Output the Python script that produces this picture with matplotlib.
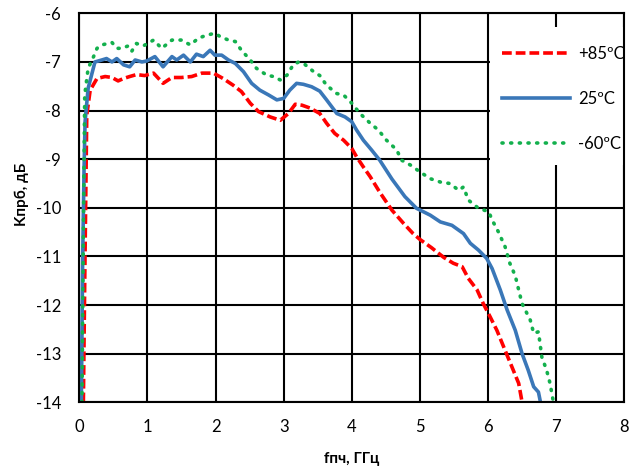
import numpy as np
import matplotlib

matplotlib.use("Agg")

import matplotlib.pyplot as plt
from matplotlib.patches import Rectangle

plt.rcParams["font.family"] = ["Lato", "DejaVu Sans"]

# +85 C
f_hot = [0.06, 0.08, 0.10, 0.11, 0.16, 0.26, 0.38, 0.48, 0.57, 0.65, 0.74, 0.84,
         0.96, 1.09, 1.23, 1.36, 1.50, 1.65, 1.80, 1.97, 2.11, 2.26, 2.38, 2.51,
         2.63, 2.80, 2.95, 3.07, 3.17, 3.27, 3.39, 3.53, 3.63, 3.75, 3.88, 4.00,
         4.07, 4.17, 4.27, 4.42, 4.59, 4.76, 4.90, 5.00, 5.17, 5.35, 5.49, 5.62,
         5.71, 5.84, 5.93, 6.03, 6.13, 6.25, 6.35, 6.45, 6.50]
k_hot = [-14.0, -11.5, -9.2, -8.09, -7.58, -7.34, -7.30, -7.32, -7.39, -7.34, -7.30, -7.26,
         -7.28, -7.23, -7.44, -7.32, -7.32, -7.30, -7.23, -7.23, -7.34, -7.48, -7.61, -7.85,
         -8.02, -8.13, -8.20, -8.06, -7.87, -7.89, -7.95, -8.06, -8.26, -8.47, -8.61, -8.78,
         -8.95, -9.16, -9.36, -9.70, -10.05, -10.32, -10.53, -10.65, -10.82, -11.02, -11.14, -11.21,
         -11.45, -11.69, -11.97, -12.24, -12.52, -12.93, -13.27, -13.61, -14.0]

# 25 C
f_room = [0.03, 0.05, 0.07, 0.085, 0.13, 0.23, 0.33, 0.40, 0.48, 0.55, 0.65, 0.74,
          0.82, 0.92, 0.99, 1.11, 1.23, 1.36, 1.43, 1.53, 1.63, 1.72, 1.82, 1.92,
          1.99, 2.09, 2.19, 2.29, 2.41, 2.53, 2.65, 2.78, 2.90, 3.00, 3.09, 3.19,
          3.29, 3.41, 3.53, 3.63, 3.78, 3.90, 4.00, 4.07, 4.17, 4.29, 4.41, 4.59,
          4.78, 4.95, 5.15, 5.30, 5.47, 5.57, 5.64, 5.74, 5.86, 5.98, 6.06, 6.18,
          6.28, 6.40, 6.50, 6.59, 6.67, 6.74, 6.77]
k_room = [-14.0, -11.0, -9.2, -8.23, -7.54, -7.00, -6.96, -6.93, -7.00, -6.93, -7.06, -7.10,
          -6.96, -7.00, -6.98, -6.89, -7.10, -6.89, -6.96, -6.86, -7.00, -6.84, -6.89, -6.76,
          -6.86, -6.86, -6.96, -7.03, -7.20, -7.44, -7.58, -7.68, -7.78, -7.75, -7.58, -7.44,
          -7.46, -7.51, -7.60, -7.78, -8.06, -8.13, -8.23, -8.40, -8.61, -8.81, -9.02, -9.41,
          -9.77, -10.01, -10.15, -10.29, -10.36, -10.46, -10.53, -10.73, -10.87, -11.04, -11.25, -11.69,
          -12.10, -12.52, -13.00, -13.34, -13.68, -13.79, -14.0]

# -60 C
f_cold = [0.04, 0.06, 0.08, 0.13, 0.21, 0.26, 0.33, 0.48, 0.55, 0.62, 0.72, 0.77,
          0.84, 0.94, 1.09, 1.21, 1.36, 1.50, 1.63, 1.75, 1.87, 1.99, 2.07, 2.19,
          2.29, 2.38, 2.51, 2.60, 2.75, 2.85, 2.95, 3.05, 3.14, 3.22, 3.31, 3.44,
          3.53, 3.63, 3.78, 3.88, 4.00, 4.12, 4.27, 4.39, 4.51, 4.66, 4.73, 4.86,
          5.00, 5.15, 5.30, 5.44, 5.57, 5.64, 5.71, 5.86, 6.01, 6.06, 6.15, 6.25,
          6.32, 6.40, 6.45, 6.50, 6.62, 6.67, 6.74, 6.79, 6.86, 6.91, 6.96]
k_cold = [-14.0, -10.5, -7.68, -7.13, -6.89, -6.72, -6.65, -6.60, -6.72, -6.72, -6.67, -6.78,
          -6.62, -6.67, -6.55, -6.72, -6.55, -6.55, -6.65, -6.51, -6.45, -6.41, -6.48, -6.55,
          -6.58, -6.76, -6.96, -7.13, -7.27, -7.30, -7.37, -7.27, -7.06, -7.00, -7.05, -7.20,
          -7.28, -7.48, -7.65, -7.68, -7.85, -8.06, -8.26, -8.40, -8.61, -8.81, -9.02, -9.12,
          -9.26, -9.40, -9.47, -9.50, -9.64, -9.57, -9.84, -10.01, -10.08, -10.25, -10.49, -10.80,
          -11.14, -11.40, -11.69, -11.97, -12.31, -12.58, -12.55, -13.07, -13.34, -13.61, -14.0]

labels = ["+85ºC", "25ºC", "-60ºC"]
x_ticks = [0, 1, 2, 3, 4, 5, 6, 7, 8]
y_ticks = [-14, -13, -12, -11, -10, -9, -8, -7, -6]

fig = plt.figure(figsize=(6.43, 4.69), dpi=100)
ax = fig.add_axes([0.1233, 0.1422, 0.8476, 0.8294])

ax.plot(f_hot, k_hot, color="#ff0000", lw=2.6, linestyle=(0, (2.7, 1.1)),
        label=labels[0])
ax.plot(f_room, k_room, color="#3a77b8", lw=2.6, label=labels[1])
ax.plot(f_cold, k_cold, color="#13b04d", lw=2.6, linestyle=(0, (0.3, 2.1)),
        dash_capstyle="round", label=labels[2])

ax.set_xlim(0, 8)
ax.set_ylim(-14, -6)
ax.set_xticks(x_ticks)
ax.set_yticks(y_ticks)
ax.set_xticklabels([str(v) for v in x_ticks])
ax.set_yticklabels([str(v) for v in y_ticks])
ax.tick_params(axis="y", length=0, labelsize=12, pad=13)
ax.tick_params(axis="x", length=0, labelsize=12, pad=12)
ax.grid(True, color="black", lw=1.5)
ax.set_axisbelow(True)
for sp in ax.spines.values():
    sp.set_color("black")
    sp.set_linewidth(1.5)

ax.set_xlabel("fпч, ГГц", fontsize=11, fontweight="bold", labelpad=12)
ax.set_ylabel("Kпрб, дБ", fontsize=11, fontweight="bold")
ax.yaxis.set_label_coords(-0.092, 0.535)

# white legend area covering the grid
ax.add_patch(Rectangle((0.754, 0.61), 0.246, 0.355, transform=ax.transAxes,
                       facecolor="white", edgecolor="none", zorder=2.5))

leg = ax.legend(loc="upper left", bbox_to_anchor=(0.7756, 0.916),
                borderaxespad=0, borderpad=0, fontsize=12, labelspacing=1.75,
                handlelength=4.1, handletextpad=0.48, frameon=False)

fig.savefig("out.png", dpi=100)
